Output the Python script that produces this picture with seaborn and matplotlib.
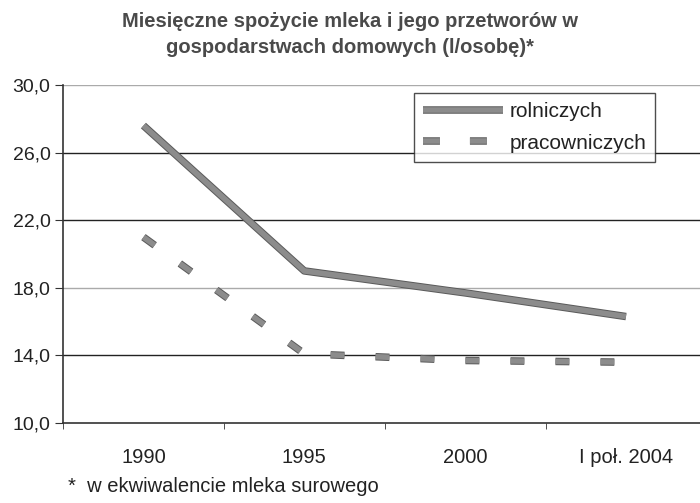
import pandas as pd
import seaborn as sns
import matplotlib.pyplot as plt
import matplotlib.patheffects as pe
from matplotlib.ticker import FixedLocator, FuncFormatter

# data
categories = ['1990', '1995', '2000', 'I poł. 2004']
rolniczych = [27.6, 19.0, 17.7, 16.3]
pracowniczych = [21.0, 14.1, 13.7, 13.6]
y_ticks = [10, 14, 18, 22, 26, 30]

df = pd.DataFrame({
    'pos': list(range(len(categories))) * 2,
    'value': rolniczych + pracowniczych,
    'seria': ['rolniczych'] * len(categories) + ['pracowniczych'] * len(categories),
})

sns.set_style('white')
plt.rcParams['font.family'] = ['Liberation Sans', 'DejaVu Sans']

fig = plt.figure(figsize=(7, 5.03), dpi=100)
ax = fig.add_axes([0.09, 0.159, 0.91, 0.672])

edge = [pe.Stroke(linewidth=5.4, foreground='#5a5a5a'), pe.Normal()]

sns.lineplot(data=df, x='pos', y='value', hue='seria', style='seria',
             palette={'rolniczych': '#8c8c8c', 'pracowniczych': '#8c8c8c'},
             dashes={'rolniczych': '', 'pracowniczych': (2.5, 5.6)},
             linewidth=4, ax=ax, legend=False)

for line in ax.get_lines():
    line.set_path_effects(edge)
    line.set_solid_capstyle('butt')
    line.set_dash_capstyle('butt')

ax.set_ylim(10, 30)
ax.set_xlim(-0.5, len(categories) - 0.54)
ax.yaxis.set_major_locator(FixedLocator(y_ticks))
ax.yaxis.set_major_formatter(FuncFormatter(lambda v, p: f'{v:.1f}'.replace('.', ',')))
ax.set_xticks(range(len(categories)))
ax.set_xticklabels(categories)
ax.set_xticks([i + 0.5 for i in range(-1, len(categories) - 1)], minor=True)
ax.tick_params(axis='x', which='major', length=0, pad=18, labelsize=14.5, colors='#222222')
ax.tick_params(axis='x', which='minor', length=4, direction='out', color='#333333', bottom=True)
ax.tick_params(axis='y', length=6, direction='out', color='#333333', left=True,
               labelsize=14, labelcolor='#222222', pad=3)
ax.set_xlabel('')
ax.set_ylabel('')

for v in y_ticks[1:]:
    c = '#aaaaaa' if v in (18, 30) else '#222222'
    ax.axhline(v, color=c, linewidth=1.0, zorder=0)

for s in ['top', 'right']:
    ax.spines[s].set_visible(False)
ax.spines['left'].set_color('#333333')
ax.spines['bottom'].set_color('#333333')
ax.spines['left'].set_linewidth(1.2)
ax.spines['bottom'].set_linewidth(1.2)

# legend
h1 = plt.Line2D([], [], color='#8c8c8c', linewidth=4, path_effects=edge,
                solid_capstyle='butt')
h2 = plt.Line2D([], [], color='#8c8c8c', linewidth=4, linestyle=(0, (3.05, 5.4)),
                path_effects=edge, dash_capstyle='butt')
leg = ax.legend([h1, h2], ['rolniczych', 'pracowniczych'],
                loc='upper left', bbox_to_anchor=(0.551, 0.976), frameon=True,
                fancybox=False, fontsize=15, handlelength=3.85, handletextpad=0.33,
                borderpad=0.42, labelspacing=0.62, borderaxespad=0)
leg.get_frame().set_edgecolor('#222222')
leg.get_frame().set_linewidth(1.0)
for t in leg.get_texts():
    t.set_color('#222222')

fig.text(0.5, 0.976, 'Miesięczne spożycie mleka i jego przetworów w\ngospodarstwach domowych (l/osobę)*',
         ha='center', va='top', fontsize=14.5, fontweight='bold', color='#4a4a4a', linespacing=1.45)
fig.text(0.097, 0.032, '*  w ekwiwalencie mleka surowego', ha='left', va='center',
         fontsize=14.5, color='#222222')

fig.savefig('out.png', dpi=100)
